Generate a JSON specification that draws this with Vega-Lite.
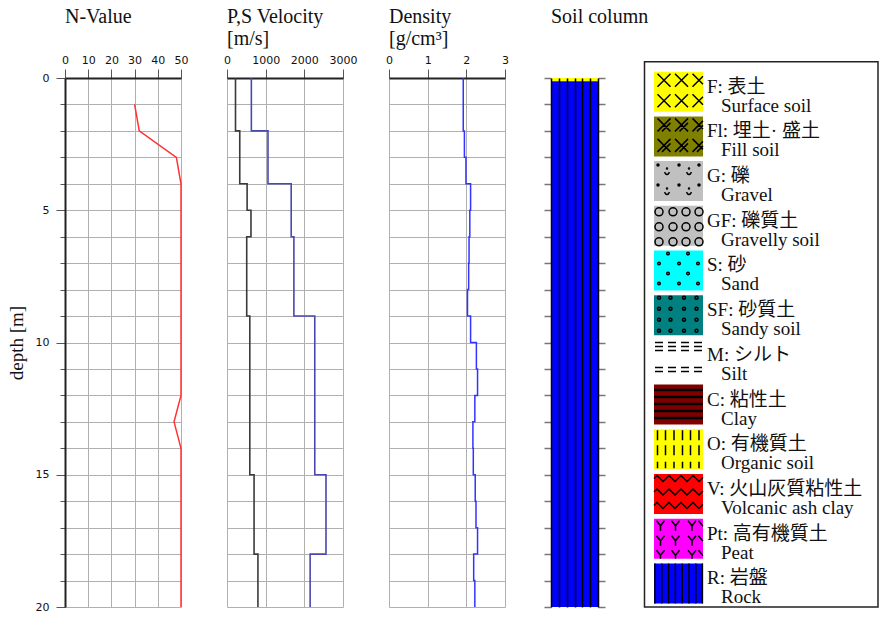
{
  "$schema": "https://vega.github.io/schema/vega-lite/v6.json",
  "background": "white",
  "padding": {"left": 7, "top": 7, "right": 0, "bottom": 0},
  "spacing": 46,
  "bounds": "flush",
  "resolve": {"scale": {"color": "independent", "shape": "independent"}},
  "config": {
    "view": {"stroke": null},
    "font": "Liberation Serif",
    "title": {"font": "Liberation Serif", "fontSize": 20, "fontWeight": "normal", "anchor": "start", "frame": "group", "lineHeight": 22, "offset": 5, "color": "#111"},
    "axis": {"gridColor": "#b0b0b0", "gridWidth": 1, "tickColor": "#555", "tickWidth": 1, "labelFont": "DejaVu Sans", "labelFontSize": 11, "labelColor": "#111", "titleFont": "Liberation Serif", "titleFontSize": 19, "titleFontWeight": "normal", "titleColor": "#111", "domainColor": "#222"},
    "axisTop": {"tickSize": 9, "labelPadding": 4, "domainWidth": 2, "labelFlush": false, "labelOverlap": false, "labelBound": false, "grid": true}
  },
  "hconcat": [
    {
      "width": 116, "height": 529,
      "title": {"text": ["N-Value", ""]},
      "data": {"values": [
        {"depth": 1, "N": 30}, {"depth": 2, "N": 32}, {"depth": 3, "N": 48}, {"depth": 4, "N": 50},
        {"depth": 5, "N": 50}, {"depth": 6, "N": 50}, {"depth": 7, "N": 50}, {"depth": 8, "N": 50},
        {"depth": 9, "N": 50}, {"depth": 10, "N": 50}, {"depth": 11, "N": 50}, {"depth": 12, "N": 50},
        {"depth": 13, "N": 47}, {"depth": 14, "N": 50}, {"depth": 15, "N": 50}, {"depth": 16, "N": 50},
        {"depth": 17, "N": 50}, {"depth": 18, "N": 50}, {"depth": 19, "N": 50}, {"depth": 20, "N": 50}
      ]},
      "mark": {"type": "line", "color": "#ff3333", "strokeWidth": 1.5},
      "encoding": {
        "x": {"field": "N", "type": "quantitative", "scale": {"domain": [0, 50], "nice": false, "zero": false},
              "axis": {"orient": "top", "values": [0, 10, 20, 30, 40, 50], "format": "d", "title": null}},
        "y": {"field": "depth", "type": "quantitative", "scale": {"domain": [0, 20], "reverse": true, "nice": false},
              "axis": {"orient": "left", "values": [0,1,2,3,4,5,6,7,8,9,10,11,12,13,14,15,16,17,18,19,20], "grid": true,
                       "domain": true, "domainWidth": 2, "domainColor": "#222",
                       "tickSize": {"condition": {"test": "datum.value % 5 === 0", "value": 9}, "value": 5},
                       "labelExpr": "datum.value % 5 === 0 ? datum.label : ''", "labelPadding": 7, "labelOverlap": false,
                       "title": "depth [m]", "titlePadding": 9}},
        "order": {"field": "depth", "type": "quantitative"}
      }
    },
    {
      "width": 116, "height": 529,
      "title": {"text": ["P,S Velocity", "[m/s]"]},
      "data": {"values": [
        {"wave": "Vs", "depth": 0, "v": 220}, {"wave": "Vs", "depth": 2, "v": 330}, {"wave": "Vs", "depth": 4, "v": 520},
        {"wave": "Vs", "depth": 5, "v": 620}, {"wave": "Vs", "depth": 6, "v": 510}, {"wave": "Vs", "depth": 9, "v": 590},
        {"wave": "Vs", "depth": 15, "v": 700}, {"wave": "Vs", "depth": 18, "v": 800}, {"wave": "Vs", "depth": 20, "v": 800},
        {"wave": "Vp", "depth": 0, "v": 630}, {"wave": "Vp", "depth": 2, "v": 1060}, {"wave": "Vp", "depth": 4, "v": 1660},
        {"wave": "Vp", "depth": 6, "v": 1730}, {"wave": "Vp", "depth": 9, "v": 2270}, {"wave": "Vp", "depth": 15, "v": 2560},
        {"wave": "Vp", "depth": 18, "v": 2150}, {"wave": "Vp", "depth": 20, "v": 2150}
      ]},
      "mark": {"type": "line", "strokeWidth": 1.6, "interpolate": "step-before"},
      "encoding": {
        "x": {"field": "v", "type": "quantitative", "scale": {"domain": [0, 3000], "nice": false},
              "axis": {"orient": "top", "values": [0, 1000, 2000, 3000], "format": "d", "title": null}},
        "y": {"field": "depth", "type": "quantitative", "scale": {"domain": [0, 20], "reverse": true, "nice": false},
              "axis": {"values": [0,1,2,3,4,5,6,7,8,9,10,11,12,13,14,15,16,17,18,19,20], "grid": true, "labels": false, "ticks": false, "domain": false, "title": null}},
        "color": {"field": "wave", "type": "nominal", "scale": {"domain": ["Vs", "Vp"], "range": ["#3a3a3a", "#4848b0"]}, "legend": null},
        "order": {"field": "depth", "type": "quantitative"}
      }
    },
    {
      "width": 116, "height": 529,
      "title": {"text": ["Density", "[g/cm³]"]},
      "data": {"values": [
        {"depth": 0, "rho": 1.92}, {"depth": 1, "rho": 1.92}, {"depth": 2, "rho": 1.95}, {"depth": 3, "rho": 1.99},
        {"depth": 4, "rho": 2.11}, {"depth": 5, "rho": 2.09}, {"depth": 6, "rho": 2.07}, {"depth": 7, "rho": 2.06},
        {"depth": 8, "rho": 2.03}, {"depth": 9, "rho": 2.11}, {"depth": 10, "rho": 2.26}, {"depth": 11, "rho": 2.29},
        {"depth": 12, "rho": 2.22}, {"depth": 13, "rho": 2.17}, {"depth": 14, "rho": 2.18}, {"depth": 15, "rho": 2.23},
        {"depth": 16, "rho": 2.25}, {"depth": 17, "rho": 2.29}, {"depth": 18, "rho": 2.19}, {"depth": 19, "rho": 2.22},
        {"depth": 20, "rho": 2.22}
      ]},
      "mark": {"type": "line", "color": "#3333ff", "strokeWidth": 1.5, "interpolate": "step-before"},
      "encoding": {
        "x": {"field": "rho", "type": "quantitative", "scale": {"domain": [0, 3], "nice": false},
              "axis": {"orient": "top", "values": [0, 1, 2, 3], "format": "d", "title": null}},
        "y": {"field": "depth", "type": "quantitative", "scale": {"domain": [0, 20], "reverse": true, "nice": false},
              "axis": {"values": [0,1,2,3,4,5,6,7,8,9,10,11,12,13,14,15,16,17,18,19,20], "grid": true, "labels": false, "ticks": false, "domain": false, "title": null}},
        "order": {"field": "depth", "type": "quantitative"}
      }
    },
    {
      "width": 47, "height": 529,
      "title": {"text": ["Soil column", ""]},
      "data": {"values": [
        {"code": "F", "top": 0, "bottom": 0.12},
        {"code": "R", "top": 0.12, "bottom": 20}
      ]},
      "layer": [
        {
          "mark": {"type": "rect"},
          "encoding": {
            "x": {"datum": 0, "type": "quantitative", "scale": {"domain": [0, 6], "nice": false},
                  "axis": {"orient": "top", "values": [0, 1, 2, 3, 4, 5, 6], "grid": true, "gridColor": "#000", "gridWidth": 1.5, "zindex": 1,
                           "domain": false, "tickOpacity": 0, "labelOpacity": 0, "title": null}},
            "x2": {"datum": 6},
            "y": {"field": "top", "type": "quantitative", "scale": {"domain": [0, 20], "reverse": true, "nice": false},
                  "axis": {"orient": "left", "values": [0,1,2,3,4,5,6,7,8,9,10,11,12,13,14,15,16,17,18,19,20], "labels": false, "grid": false, "domain": false, "tickSize": 7, "tickColor": "#777", "tickWidth": 1.5, "title": null}},
            "y2": {"field": "bottom"},
            "color": {"field": "code", "type": "nominal",
                      "scale": {"domain": ["F","Fl","G","GF","S","SF","M","C","O","V","Pt","R"],
                                "range": ["#ffff00","#808000","#c0c0c0","#c0c0c0","#00ffff","#008080","#ffffff","#800000","#ffff00","#ff0000","#ff00ff","#0000ff"]},
                      "legend": null}
          }
        },
        {
          "mark": {"type": "rect", "opacity": 0},
          "encoding": {
            "x": {"datum": 0, "type": "quantitative", "scale": {"domain": [0, 6], "nice": false},
                  "axis": {"orient": "top", "values": [0, 1, 2, 3, 4, 5, 6], "grid": true, "gridColor": "#000", "gridWidth": 1.5, "zindex": 1,
                           "domain": false, "tickOpacity": 0, "labelOpacity": 0, "title": null}},
            "x2": {"datum": 6},
            "y": {"field": "top", "type": "quantitative", "scale": {"domain": [0, 20], "reverse": true, "nice": false},
                  "axis": {"orient": "right", "values": [0,1,2,3,4,5,6,7,8,9,10,11,12,13,14,15,16,17,18,19,20], "labels": false, "grid": false, "domain": false, "tickSize": 7, "tickColor": "#777", "tickWidth": 1.5, "title": null}},
            "y2": {"field": "bottom"}
          }
        }
      ],
      "resolve": {"axis": {"y": "independent"}}
    },
    {
      "width": 235, "height": 529,
      "data": {"values": [
        {"i": 0, "code": "F", "jp": "F: 表土", "en": "Surface soil"},
        {"i": 1, "code": "Fl", "jp": "Fl: 埋土· 盛土", "en": "Fill soil"},
        {"i": 2, "code": "G", "jp": "G: 礫", "en": "Gravel"},
        {"i": 3, "code": "GF", "jp": "GF: 礫質土", "en": "Gravelly soil"},
        {"i": 4, "code": "S", "jp": "S: 砂", "en": "Sand"},
        {"i": 5, "code": "SF", "jp": "SF: 砂質土", "en": "Sandy soil"},
        {"i": 6, "code": "M", "jp": "M: シルト", "en": "Silt"},
        {"i": 7, "code": "C", "jp": "C: 粘性土", "en": "Clay"},
        {"i": 8, "code": "O", "jp": "O: 有機質土", "en": "Organic soil"},
        {"i": 9, "code": "V", "jp": "V: 火山灰質粘性土", "en": "Volcanic ash clay"},
        {"i": 10, "code": "Pt", "jp": "Pt: 高有機質土", "en": "Peat"},
        {"i": 11, "code": "R", "jp": "R: 岩盤", "en": "Rock"}
      ]},
      "layer": [
        {
          "data": {"values": [{}]},
          "mark": {"type": "rect", "fill": "white", "stroke": "#222", "strokeWidth": 1.5},
          "encoding": {
            "x": {"datum": 0.5, "type": "quantitative", "scale": {"domain": [0, 235], "nice": false, "zero": false}, "axis": null},
            "x2": {"datum": 234},
            "y": {"datum": -0.671, "type": "quantitative", "scale": {"domain": [-0.3065, 11.528], "reverse": true, "nice": false, "zero": false}, "axis": null},
            "y2": {"datum": 11.528}
          }
        },
        {
          "mark": {"type": "point", "shape": "M-24.5,-20H24.5V20H-24.5Z", "size": 4, "filled": true, "opacity": 1},
          "encoding": {
            "x": {"datum": 34.5, "type": "quantitative", "scale": {"domain": [0, 235], "nice": false, "zero": false}, "axis": null},
            "y": {"field": "i", "type": "quantitative", "scale": {"domain": [-0.3065, 11.528], "reverse": true, "nice": false, "zero": false}, "axis": null},
            "color": {"field": "code", "type": "nominal",
                      "scale": {"domain": ["F","Fl","G","GF","S","SF","M","C","O","V","Pt","R"],
                                "range": ["#ffff00","#808000","#c0c0c0","#c0c0c0","#00ffff","#008080","#ffffff","#800000","#ffff00","#ff0000","#ff00ff","#0000ff"]},
                      "legend": null}
          }
        },
        {
          "mark": {"type": "point", "size": 4, "filled": false, "opacity": 1, "color": "#000", "stroke": "#000", "strokeWidth": 1.5},
          "encoding": {
            "x": {"datum": 34.5, "type": "quantitative", "scale": {"domain": [0, 235], "nice": false, "zero": false}, "axis": null},
            "y": {"field": "i", "type": "quantitative", "scale": {"domain": [-0.3065, 11.528], "reverse": true, "nice": false, "zero": false}, "axis": null},
            "shape": {"field": "code", "type": "nominal", "legend": null,
                      "scale": {"domain": ["F","Fl","G","GF","S","SF","M","C","O","V","Pt","R"],
                                "range": [
                                  "M-21,-18L-8,-5M-21,-5L-8,-18M-3.5,-18L9.5,-5M-3.5,-5L9.5,-18M14,-18L24.5,-7.5M14,-5L24.5,-15.5M-21,2.5L-8,15.5M-21,15.5L-8,2.5M-3.5,2.5L9.5,15.5M-3.5,15.5L9.5,2.5M14,2.5L24.5,13M14,15.5L24.5,5",
                                  "M-21,-18L-8,-5M-21,-5L-8,-18M-3.5,-18L9.5,-5M-3.5,-5L9.5,-18M14,-18L24.5,-7.5M14,-5L24.5,-15.5M-21,2.5L-8,15.5M-21,15.5L-8,2.5M-3.5,2.5L9.5,15.5M-3.5,15.5L9.5,2.5M14,2.5L24.5,13M14,15.5L24.5,5M-16.5,-5L-8,-13.5M1,-5L9.5,-13.5M18.5,-5L24.5,-11M-16.5,15.5L-8,7M1,15.5L9.5,7M18.5,15.5L24.5,9.5",
                                  "M-21.5,-16a1,1 0 1,0 2,0a1,1 0 1,0 -2,0M-0.5,-16a1,1 0 1,0 2,0a1,1 0 1,0 -2,0M19.5,-16a1,1 0 1,0 2,0a1,1 0 1,0 -2,0M-21.5,4a1,1 0 1,0 2,0a1,1 0 1,0 -2,0M-0.5,4a1,1 0 1,0 2,0a1,1 0 1,0 -2,0M19.5,4a1,1 0 1,0 2,0a1,1 0 1,0 -2,0M-14,-9Q-11.5,-4 -9,-9M-12,-12.5a0.5,0.5 0 1,0 1,0a0.5,0.5 0 1,0 -1,0M8,-9Q10.5,-4 13,-9M10,-12.5a0.5,0.5 0 1,0 1,0a0.5,0.5 0 1,0 -1,0M-14,11Q-11.5,16 -9,11M-12,7.5a0.5,0.5 0 1,0 1,0a0.5,0.5 0 1,0 -1,0M8,11Q10.5,16 13,11M10,7.5a0.5,0.5 0 1,0 1,0a0.5,0.5 0 1,0 -1,0",
                                  "M-23.5,-14a4,4 0 1,0 8,0a4,4 0 1,0 -8,0M-9.5,-14a4,4 0 1,0 8,0a4,4 0 1,0 -8,0M3.5,-14a4,4 0 1,0 8,0a4,4 0 1,0 -8,0M16.5,-14a4,4 0 1,0 8,0a4,4 0 1,0 -8,0M-23.5,1a4,4 0 1,0 8,0a4,4 0 1,0 -8,0M-9.5,1a4,4 0 1,0 8,0a4,4 0 1,0 -8,0M3.5,1a4,4 0 1,0 8,0a4,4 0 1,0 -8,0M16.5,1a4,4 0 1,0 8,0a4,4 0 1,0 -8,0M-23.5,16a4,4 0 1,0 8,0a4,4 0 1,0 -8,0M-9.5,16a4,4 0 1,0 8,0a4,4 0 1,0 -8,0M3.5,16a4,4 0 1,0 8,0a4,4 0 1,0 -8,0M16.5,16a4,4 0 1,0 8,0a4,4 0 1,0 -8,0",
                                  "M-11.8,-17a1.3,1.3 0 1,0 2.6,0a1.3,1.3 0 1,0 -2.6,0M8.2,-17a1.3,1.3 0 1,0 2.6,0a1.3,1.3 0 1,0 -2.6,0M-20.8,-7a1.3,1.3 0 1,0 2.6,0a1.3,1.3 0 1,0 -2.6,0M-0.8,-7a1.3,1.3 0 1,0 2.6,0a1.3,1.3 0 1,0 -2.6,0M18.2,-7a1.3,1.3 0 1,0 2.6,0a1.3,1.3 0 1,0 -2.6,0M-11.8,3a1.3,1.3 0 1,0 2.6,0a1.3,1.3 0 1,0 -2.6,0M8.2,3a1.3,1.3 0 1,0 2.6,0a1.3,1.3 0 1,0 -2.6,0M-20.8,13a1.3,1.3 0 1,0 2.6,0a1.3,1.3 0 1,0 -2.6,0M-0.8,13a1.3,1.3 0 1,0 2.6,0a1.3,1.3 0 1,0 -2.6,0M18.2,13a1.3,1.3 0 1,0 2.6,0a1.3,1.3 0 1,0 -2.6,0",
                                  "M-21,-17.5a1.5,1.5 0 1,0 3,0a1.5,1.5 0 1,0 -3,0M-9.5,-17.5a1.5,1.5 0 1,0 3,0a1.5,1.5 0 1,0 -3,0M4,-17.5a1.5,1.5 0 1,0 3,0a1.5,1.5 0 1,0 -3,0M16.5,-17.5a1.5,1.5 0 1,0 3,0a1.5,1.5 0 1,0 -3,0M-21,-6.5a1.5,1.5 0 1,0 3,0a1.5,1.5 0 1,0 -3,0M-9.5,-6.5a1.5,1.5 0 1,0 3,0a1.5,1.5 0 1,0 -3,0M4,-6.5a1.5,1.5 0 1,0 3,0a1.5,1.5 0 1,0 -3,0M16.5,-6.5a1.5,1.5 0 1,0 3,0a1.5,1.5 0 1,0 -3,0M-21,4.5a1.5,1.5 0 1,0 3,0a1.5,1.5 0 1,0 -3,0M-9.5,4.5a1.5,1.5 0 1,0 3,0a1.5,1.5 0 1,0 -3,0M4,4.5a1.5,1.5 0 1,0 3,0a1.5,1.5 0 1,0 -3,0M16.5,4.5a1.5,1.5 0 1,0 3,0a1.5,1.5 0 1,0 -3,0M-21,15.5a1.5,1.5 0 1,0 3,0a1.5,1.5 0 1,0 -3,0M-9.5,15.5a1.5,1.5 0 1,0 3,0a1.5,1.5 0 1,0 -3,0M4,15.5a1.5,1.5 0 1,0 3,0a1.5,1.5 0 1,0 -3,0M16.5,15.5a1.5,1.5 0 1,0 3,0a1.5,1.5 0 1,0 -3,0",
                                  "M-23.5,-17.5H-15.5M-10.5,-17.5H-2.5M2.5,-17.5H10.5M15.5,-17.5H23.5M-23.5,-13.5H-15.5M-10.5,-13.5H-2.5M2.5,-13.5H10.5M15.5,-13.5H23.5M-23.5,-9.5H-15.5M-10.5,-9.5H-2.5M2.5,-9.5H10.5M15.5,-9.5H23.5M-23.5,7.5H-15.5M-10.5,7.5H-2.5M2.5,7.5H10.5M15.5,7.5H23.5M-23.5,11.5H-15.5M-10.5,11.5H-2.5M2.5,11.5H10.5M15.5,11.5H23.5",
                                  "M-24.5,-15H24.5M-24.5,-14H24.5M-24.5,-8H24.5M-24.5,-7H24.5M-24.5,-1H24.5M-24.5,0H24.5M-24.5,6H24.5M-24.5,7H24.5M-24.5,13H24.5M-24.5,14H24.5",
                                  "M-21,-19V-9M-21,-4V6M-21,12.5V19M-13,-19V-9M-13,-4V6M-13,12.5V19M-4.5,-19V-9M-4.5,-4V6M-4.5,12.5V19M4,-19V-9M4,-4V6M4,12.5V19M12,-19V-9M12,-4V6M12,12.5V19M20.5,-19V-9M20.5,-4V6M20.5,12.5V19",
                                  "M-24.5,-15.5L-21.5,-18.5L-15.5,-12.5L-9.5,-18.5L-3.5,-12.5L2.5,-18.5L8.5,-12.5L14.5,-18.5L20.5,-12.5L24.5,-16.5M-24.5,-2L-21.5,-5L-15.5,1L-9.5,-5L-3.5,1L2.5,-5L8.5,1L14.5,-5L20.5,1L24.5,-3M-24.5,11.5L-21.5,8.5L-15.5,14.5L-9.5,8.5L-3.5,14.5L2.5,8.5L8.5,14.5L14.5,8.5L20.5,14.5L24.5,10.5",
                                  "M-22,-18L-18,-13L-14,-18M-18,-13V-8M-7,-18L-3,-13L1,-18M-3,-13V-8M9.5,-18L13.5,-13L17.5,-18M13.5,-13V-8M20,-18L24.5,-12.4M-22,-3L-18,2L-14,-3M-18,2V7M-7,-3L-3,2L1,-3M-3,2V7M9.5,-3L13.5,2L17.5,-3M13.5,2V7M20,-3L24.5,2.6M-22,11.5L-18,16.5L-14,11.5M-18,16.5V20M-7,11.5L-3,16.5L1,11.5M-3,16.5V20M9.5,11.5L13.5,16.5L17.5,11.5M13.5,16.5V20M20,11.5L24.5,17.1",
                                  "M-23.5,-20V20M-16.7,-20V20M-9.9,-20V20M-3.1,-20V20M3.7,-20V20M10.5,-20V20M17.3,-20V20M23.9,-20V20"
                                ]}}
          }
        },
        {
          "mark": {"type": "text", "align": "left", "baseline": "middle", "dy": -5, "fontSize": 19, "font": "Liberation Serif, Noto Sans CJK JP", "color": "#111"},
          "encoding": {
            "x": {"datum": 63, "type": "quantitative", "scale": {"domain": [0, 235], "nice": false, "zero": false}, "axis": null},
            "y": {"field": "i", "type": "quantitative", "scale": {"domain": [-0.3065, 11.528], "reverse": true, "nice": false, "zero": false}, "axis": null},
            "text": {"field": "jp", "type": "nominal"}
          }
        },
        {
          "mark": {"type": "text", "align": "left", "baseline": "middle", "dy": 14, "fontSize": 19, "font": "Liberation Serif, Noto Sans CJK JP", "color": "#111"},
          "encoding": {
            "x": {"datum": 77, "type": "quantitative", "scale": {"domain": [0, 235], "nice": false, "zero": false}, "axis": null},
            "y": {"field": "i", "type": "quantitative", "scale": {"domain": [-0.3065, 11.528], "reverse": true, "nice": false, "zero": false}, "axis": null},
            "text": {"field": "en", "type": "nominal"}
          }
        }
      ]
    }
  ]
}
